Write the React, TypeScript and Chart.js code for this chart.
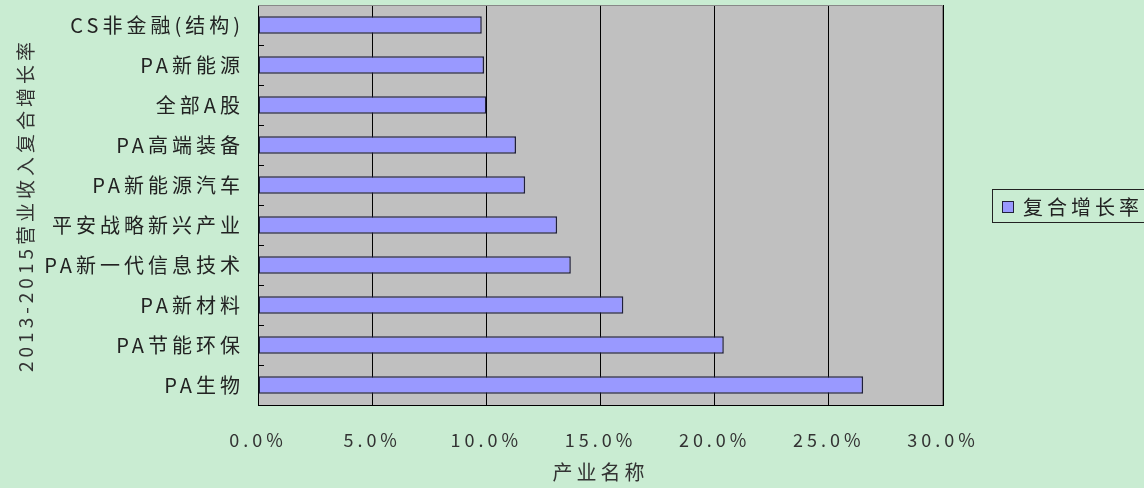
import { useEffect, useRef } from "react";
import { Chart, registerables } from "chart.js";

Chart.register(...registerables);

const CATEGORIES = [
  "CS非金融(结构)",
  "PA新能源",
  "全部A股",
  "PA高端装备",
  "PA新能源汽车",
  "平安战略新兴产业",
  "PA新一代信息技术",
  "PA新材料",
  "PA节能环保",
  "PA生物",
];

// 复合增长率, in percent
const GROWTH = [9.8, 9.9, 10.0, 11.3, 11.7, 13.1, 13.7, 16.0, 20.4, 26.5];

const SERIES_NAME = "复合增长率";
const Y_TITLE = "2013-2015营业收入复合增长率";
const X_TITLE = "产业名称";

const BG = "#c9ecd2";
const PLOT_BG = "#c0c0c0";
const BAR_FILL = "#9999ff";
const BAR_EDGE = "#20203a";
const FONT = '"Noto Sans CJK SC", sans-serif';
const SPACING = "4px";

const setSpacing = (chart: any) => {
  if ("letterSpacing" in chart.ctx) chart.ctx.letterSpacing = SPACING;
};

// gray plot area + short ticks between categories + top/right frame + legend
const plotArea = {
  id: "plotArea",
  beforeLayout: setSpacing,
  beforeDraw(chart: any) {
    setSpacing(chart);
    const { ctx, chartArea: a } = chart;
    ctx.save();
    ctx.fillStyle = PLOT_BG;
    ctx.fillRect(a.left, a.top, a.right - a.left, a.bottom - a.top);
    ctx.restore();
  },
  afterDraw(chart: any) {
    const { ctx, chartArea: a } = chart;
    ctx.save();
    ctx.strokeStyle = "#888";
    ctx.lineWidth = 1;
    ctx.beginPath();
    ctx.moveTo(a.left, a.top + 0.5);
    ctx.lineTo(a.right - 0.5, a.top + 0.5);
    ctx.lineTo(a.right - 0.5, a.bottom);
    ctx.stroke();
    // minor ticks at category boundaries
    const n = CATEGORIES.length;
    const step = (a.bottom - a.top) / n;
    ctx.strokeStyle = "#000";
    ctx.beginPath();
    for (let i = 1; i < n; i++) {
      const y = Math.round(a.top + i * step) + 0.5;
      ctx.moveTo(a.left, y);
      ctx.lineTo(a.left + 6, y);
    }
    ctx.stroke();
    // legend
    const lx = 992, ly = 189;
    ctx.strokeStyle = "#222";
    ctx.lineWidth = 1;
    ctx.strokeRect(lx + 0.5, ly + 0.5, 170, 33);
    ctx.fillStyle = BAR_FILL;
    ctx.fillRect(1002, 201, 11, 11);
    ctx.strokeStyle = BAR_EDGE;
    ctx.strokeRect(1002.5, 201.5, 11, 11);
    ctx.fillStyle = "#222";
    ctx.font = `20px ${FONT}`;
    ctx.textBaseline = "middle";
    ctx.textAlign = "left";
    ctx.fillText(SERIES_NAME, 1023, 207);
    ctx.restore();
  },
};

export default function App() {
  const canvasRef = useRef<HTMLCanvasElement>(null);
  const chartRef = useRef<any>(null);

  useEffect(() => {
    if (!canvasRef.current) return;
    if (chartRef.current) chartRef.current.destroy();

    chartRef.current = new Chart(canvasRef.current, {
      type: "bar",
      data: {
        labels: CATEGORIES,
        datasets: [
          {
            label: SERIES_NAME,
            data: GROWTH,
            backgroundColor: BAR_FILL,
            borderColor: BAR_EDGE,
            borderWidth: 1.5,
            borderSkipped: false,
            barPercentage: 0.44,
            categoryPercentage: 1,
          },
        ],
      },
      options: {
        indexAxis: "y",
        animation: false,
        responsive: true,
        maintainAspectRatio: false,
        layout: { padding: { top: 5, right: 201, left: 14, bottom: 0 } },
        plugins: {
          legend: { display: false },
          tooltip: { enabled: false },
          title: { display: false },
        },
        scales: {
          x: {
            min: 0,
            max: 30,
            ticks: {
              stepSize: 5,
              color: "#333",
              padding: 24,
              font: { family: FONT, size: 18 },
              callback: (v: any) => Number(v).toFixed(1) + "%",
            },
            grid: { color: "#000", lineWidth: 1, drawTicks: false },
            border: { display: true, color: "#000", width: 1 },
            title: {
              display: true,
              text: X_TITLE,
              color: "#333",
              font: { family: FONT, size: 20 },
              padding: { top: 0, bottom: 4 },
            },
            afterFit: (s: any) => {
              s.height = 83;
            },
          },
          y: {
            ticks: {
              color: "#222",
              padding: 14,
              font: { family: FONT, size: 20 },
            },
            grid: { display: false, drawTicks: false },
            border: { display: true, color: "#000", width: 1 },
            title: {
              display: true,
              text: Y_TITLE,
              color: "#333",
              font: { family: FONT, size: 19 },
              padding: 0,
            },
            afterFit: (s: any) => {
              s.width = 244;
              s.paddingTop = 0;
              s.paddingBottom = 0;
            },
          },
        },
      },
      plugins: [plotArea],
    });

    return () => {
      if (chartRef.current) {
        chartRef.current.destroy();
        chartRef.current = null;
      }
    };
  }, []);

  return (
    <div
      style={{
        position: "fixed",
        left: 0,
        top: 0,
        width: 1144,
        height: 488,
        background: BG,
        overflow: "hidden",
      }}
    >
      <canvas ref={canvasRef} />
    </div>
  );
}
